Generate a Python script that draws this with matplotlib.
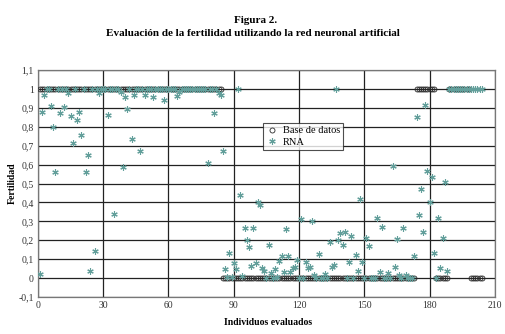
import matplotlib
matplotlib.use("Agg")
import matplotlib.pyplot as plt
from matplotlib.ticker import FixedLocator, FuncFormatter

plt.rcParams["font.family"] = ["Liberation Serif", "DejaVu Serif"]

# individuos evaluados (1..204)
individuos = list(range(1, 205))

# fertilidad segun base de datos
base_datos = (
    [1] * 84      # 1..84
    + [0] * 89    # 85..173
    + [1] * 9     # 174..182
    + [0] * 6     # 183..188
    + [1] * 10    # 189..198
    + [0] * 6     # 199..204
)

# salida de la red neuronal
rna = [
    0.02, 0.88, 0.97, 1, 1, 0.91, 0.80, 0.56, 1, 0.875,
    1, 0.905, 1, 0.98, 0.855, 0.715, 1, 0.835, 0.88, 0.755,
    1, 0.56, 0.65, 0.037, 1, 0.145, 1, 0.98, 1, 1,
    1, 0.86, 1, 1, 0.34, 1, 1, 0.985, 0.59, 0.96,
    0.893, 1, 0.737, 0.97, 1, 1, 0.67, 1, 0.97, 1,
    1, 1, 0.96, 1, 1, 1, 1, 0.94, 1, 1,
    1, 1, 1, 0.963, 0.985, 1, 1, 1, 1, 1,
    1, 1, 1, 1, 1, 1, 1, 0.61, 1, 1,
    0.875, 1, 0.98, 0.967, 0.67, 0.046, 0.005, 0.13, 0.007, 0.078,
    0.046, 1.0, 0.44, 0.01, 0.267, 0.20, 0.163, 0.064, 0.264, 0.078,
    0.40, 0.388, 0.051, 0.039, 0, 0.175, 0.025, 0, 0.046, 0.007,
    0.09, 0.117, 0.034, 0.259, 0.117, 0.034, 0.051, 0.06, 0.096, 0,
    0.312, 0, 0.087, 0.051, 0.06, 0.303, 0.016, 0, 0.127, 0,
    0, 0.021, 0, 0.188, 0.057, 0.069, 1.0, 0.20, 0.237, 0.175,
    0.243, 0, 0.087, 0.22, 0, 0.122, 0.037, 0.418, 0.087, 0,
    0.214, 0.17, 0, 0, 0, 0.317, 0.034, 0.269, 0, 0,
    0.025, 0, 0.595, 0.06, 0.205, 0.016, 0, 0.264, 0.016, 0,
    0, 0, 0.117, 0.854, 0.335, 0.47, 0.243, 0.917, 0.565, 0.40,
    0.535, 0.134, 0, 0.317, 0.051, 0.214, 0.51, 0.037, 1, 1,
    1, 1, 1, 1, 1, 1, 1, 1, 1, 1,
    1, 1, 1, 1,
]

x_ticks = [0, 30, 60, 90, 120, 150, 180, 210]
y_ticks = [-0.1, 0, 0.1, 0.2, 0.3, 0.4, 0.5, 0.6, 0.7, 0.8, 0.9, 1.0, 1.1]


def fmt_coma(v, pos=None):
    s = f"{round(v, 1) + 0.0:.1f}".rstrip("0").rstrip(".")
    return s.replace(".", ",")


fig = plt.figure(figsize=(5.06, 3.34), dpi=100)
ax = fig.add_axes([0.075, 0.111, 0.903, 0.679])

ax.plot(individuos, base_datos, linestyle="none", marker="o", ms=3.6,
        mfc="none", mec="#2a2a2a", mew=0.6, label="Base de datos", zorder=3)
ax.plot(individuos, rna, linestyle="none", marker=(6, 2, 0), ms=4.6,
        mec="#639f9b", mew=0.8, label="RNA", zorder=4)

ax.set_xlim(0, 210)
ax.set_ylim(-0.1, 1.1)
ax.xaxis.set_major_locator(FixedLocator(x_ticks))
ax.yaxis.set_major_locator(FixedLocator(y_ticks))
ax.yaxis.set_major_formatter(FuncFormatter(fmt_coma))
ax.grid(True, color="#222222", linewidth=0.9, zorder=0)
ax.set_axisbelow(True)
ax.tick_params(labelsize=7, length=0, pad=3, colors="#333333")
for sp in ax.spines.values():
    sp.set_color("#777777")
    sp.set_linewidth(0.9)

fig.text(0.53, 0.033, "Individuos evaluados", ha="center", va="center",
         fontsize=7, fontweight="bold")
fig.text(0.024, 0.452, "Fertilidad", ha="center", va="center", rotation=90,
         fontsize=7, fontweight="bold")

leg = ax.legend(loc="upper left", bbox_to_anchor=(0.492, 0.768), fontsize=7.5,
                frameon=True, fancybox=False, edgecolor="#222222",
                handletextpad=0.4, borderpad=0.3, labelspacing=0.2,
                handlelength=1.2, borderaxespad=0)
leg.get_frame().set_linewidth(0.8)

fig.text(0.506, 0.94, "Figura 2.", ha="center", va="center",
         fontsize=8, fontweight="bold")
fig.text(0.5, 0.9, "Evaluación de la fertilidad utilizando la red neuronal artificial",
         ha="center", va="center", fontsize=8, fontweight="bold")

fig.savefig("out.png", dpi=100, facecolor="white")
